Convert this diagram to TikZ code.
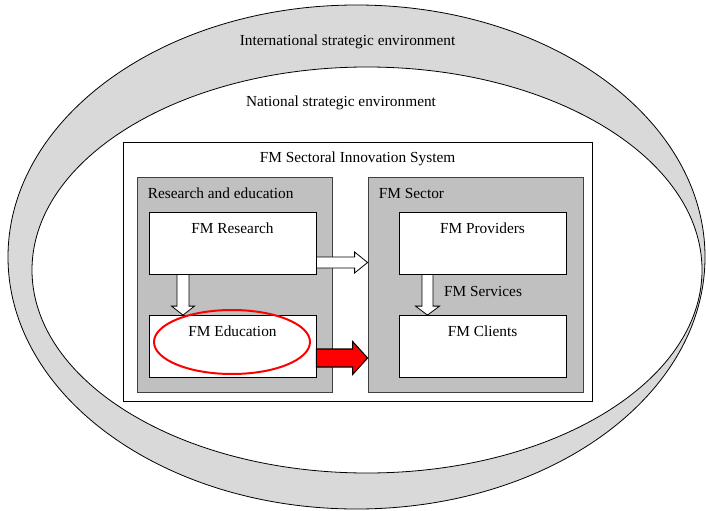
\documentclass[tikz,border=0pt]{standalone}
\usepackage{fontspec}
\setmainfont{Liberation Serif}
\usepackage{tikz}
\usetikzlibrary{calc}
\definecolor{bandgray}{RGB}{217,217,217}
\definecolor{boxgray}{RGB}{192,192,192}
\tikzset{
  whitebox/.style={draw, fill=white, line width=0.6pt, minimum width=125.25pt, inner sep=0pt, text height=15.75pt, text depth=30.75pt},
  graybox/.style={draw=black!75, fill=boxgray, line width=0.6pt, minimum width=#1, minimum height=161.25pt, inner sep=0pt},
  hollow/.style={draw, fill=white, line width=0.6pt},
  redarrow/.style={draw, fill=red, line width=0.8pt}
}
\newcommand{\harrow}[6]{%
  \draw[#6] let \p1=(#1), \p2=(#2) in
    (\x1,\y1+#3*0.75pt) -- (\x2-#5*0.75pt,\y1+#3*0.75pt) -- (\x2-#5*0.75pt,\y1+#4*0.75pt)
    -- (\x2,\y1) -- (\x2-#5*0.75pt,\y1-#4*0.75pt) -- (\x2-#5*0.75pt,\y1-#3*0.75pt)
    -- (\x1,\y1-#3*0.75pt) -- cycle;}
\newcommand{\varrow}[6]{%
  \draw[#6] let \p1=(#1), \p2=(#2) in
    (\x1-#3*0.75pt,\y1) -- (\x1-#3*0.75pt,\y2+#5*0.75pt) -- (\x1-#4*0.75pt,\y2+#5*0.75pt)
    -- (\x1,\y2) -- (\x1+#4*0.75pt,\y2+#5*0.75pt) -- (\x1+#3*0.75pt,\y2+#5*0.75pt)
    -- (\x1+#3*0.75pt,\y1) -- cycle;}
\begin{document}
\begin{tikzpicture}[x=0.75pt, y=-0.75pt, font=\fontsize{11.5}{13}\selectfont]
\useasboundingbox (0,0) rectangle (706,510);
\draw[fill=bandgray, line width=0.6pt] (356.5,257) ellipse [x radius=348.5, y radius=252];
\draw[fill=white, line width=0.6pt] (367,270) ellipse [x radius=335, y radius=203];
\node (intl) at (347.5,42) {International strategic environment};
\node (natl) at (341,103) {National strategic environment};

\node[draw, fill=white, line width=0.6pt, minimum width=351.75pt, minimum height=194.25pt, inner sep=0pt] (sis) at (357.5,271.5) {};
\node[anchor=base] (sislab) at ($(sis.north)+(0,21)$) {FM Sectoral Innovation System};

\node[graybox=146.25pt] (re) at (234.5,284.5) {};
\node[graybox=161.25pt] (sec) at (475.5,284.5) {};
\node[anchor=base west, inner sep=0pt] (relab) at ($(re.north west)+(11,22)$) {Research and education};
\node[anchor=base west, inner sep=0pt] (seclab) at ($(sec.north west)+(11,22)$) {FM Sector};

\node[whitebox] (res) at (232.5,243) {FM Research};
\node[whitebox] (edu) at (232.5,346.5) {FM Education};
\node[whitebox] (prov) at (482.5,243) {FM Providers};
\node[whitebox] (cli) at (482.5,346.5) {FM Clients};
\node (serv) at (483,291) {FM Services};

\varrow{$(res.south)+(-49.5,0)$}{edu.north}{6}{11.5}{9}{hollow}
\varrow{$(prov.south)+(-55,0)$}{cli.north}{5.5}{12}{9}{hollow}
\harrow{$(res.east)+(0,19.5)$}{sec.west}{5.5}{10.5}{13}{hollow}
\harrow{$(edu.east)+(0,11.5)$}{sec.west}{9}{16.5}{15}{redarrow}

\draw[red, line width=1.5pt] (232,342) ellipse [x radius=78, y radius=32];
\end{tikzpicture}
\end{document}
